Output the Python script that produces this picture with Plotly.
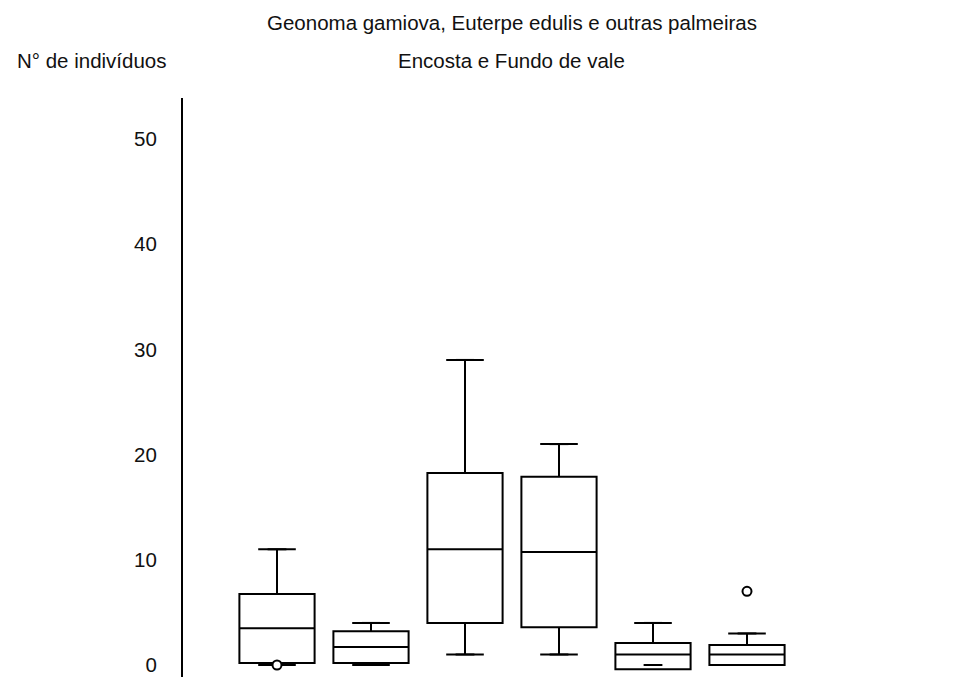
import plotly.graph_objects as go

# ---- data ----
positions = [1, 2, 3, 4, 5, 6]
q1 = [0.2, 0.2, 4.0, 3.6, -0.4, 0.0]
medians = [3.5, 1.7, 11.0, 10.75, 1.0, 1.0]
q3 = [6.75, 3.2, 18.25, 17.9, 2.1, 1.9]
whisker_max = [11, 4, 29, 21, 4, 3]
whisker_min = [0, 0, 1, 1, 0, 0]
outlier_x = [1, 6]
outlier_y = [0, 7]

y_ticks = [0, 10, 20, 30, 40, 50]
title_text = "Geonoma gamiova, Euterpe edulis e outras palmeiras"
subtitle_text = "Encosta e Fundo de vale"
ylabel_text = "N° de indivíduos"

FONT = "Liberation Sans, Arial, sans-serif"
INK = "#111111"
FS = 20.5

fig = go.Figure()

lowerfence = [min(a, b) for a, b in zip(whisker_min, q1)]
fig.add_trace(go.Box(
    x=positions, q1=q1, median=medians, q3=q3,
    lowerfence=lowerfence, upperfence=whisker_max,
    width=0.8, line=dict(color="black", width=2),
    fillcolor="rgba(255,255,255,0)", boxpoints=False,
    hoverinfo="skip", showlegend=False,
))

# whisker caps
cap_half = 0.1
cx, cy = [], []
for p, lo, hi in zip(positions, whisker_min, whisker_max):
    cx += [p - cap_half, p + cap_half, None, p - cap_half, p + cap_half, None]
    cy += [hi, hi, None, lo, lo, None]
fig.add_trace(go.Scatter(x=cx, y=cy, mode="lines",
                         line=dict(color="black", width=2),
                         hoverinfo="skip", showlegend=False))

# outliers
fig.add_trace(go.Scatter(x=outlier_x, y=outlier_y, mode="markers",
                         marker=dict(symbol="circle", size=9, color="white",
                                     line=dict(color="black", width=2)),
                         hoverinfo="skip", showlegend=False))

# page is offset by the 8px body margin; plot area spans page x 183..841, y 98..677
L, T, R, B = 175, 90, 131, 19
PW = 964 - L - R
PH = 688 - T - B

fig.update_layout(
    width=964, height=688,
    margin=dict(l=L, r=R, t=T, b=B),
    paper_bgcolor="white", plot_bgcolor="white",
    font=dict(family=FONT, size=FS, color=INK),
    showlegend=False,
    title=dict(text=title_text, x=(512 - 8) / 964, xanchor="center",
               y=1 - (23 - 8) / 688, yanchor="middle",
               font=dict(family=FONT, size=FS, color=INK)),
    xaxis=dict(range=[0, 7], visible=False, fixedrange=True),
    yaxis=dict(range=[-1.14, 53.9], tickvals=y_ticks,
               ticktext=[str(v) for v in y_ticks],
               showgrid=False, zeroline=False, showline=True,
               linecolor="black", linewidth=2, ticks="",
               ticklabelstandoff=20,
               tickfont=dict(family=FONT, size=FS, color=INK)),
    annotations=[
        dict(text=subtitle_text, xref="paper", yref="paper",
             x=(511 - 183) / PW, y=(677 - 60) / PH,
             xanchor="center", yanchor="middle", showarrow=False,
             font=dict(family=FONT, size=FS, color=INK)),
        dict(text=ylabel_text, xref="paper", yref="paper",
             x=(15 - 183) / PW, y=(677 - 60) / PH,
             xanchor="left", yanchor="middle", showarrow=False,
             font=dict(family=FONT, size=FS, color=INK)),
    ],
)

fig.write_html("out.html")
